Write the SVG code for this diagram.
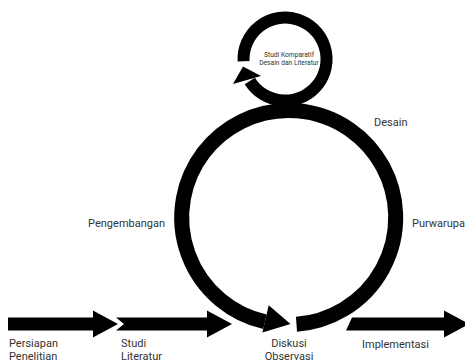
<svg xmlns="http://www.w3.org/2000/svg" width="465" height="363" viewBox="0 0 465 363">
<style>
.ring{fill:none;stroke:#000;stroke-linecap:butt}
.shape{fill:#000}
.lbl{font-family:Roboto,"Liberation Sans",sans-serif;font-size:11px;fill:#333}
.small{font-family:Roboto,"Liberation Sans",sans-serif;font-size:6.7px;fill:#333}
</style>
<rect width="465" height="363" fill="#fff"/>
<g id="connectors">
  <g id="cycle-big">
    <path class="ring" stroke-width="15" d="M296.5,324.2 A107,107 0 1 0 264.9,321.8"/>
    <polygon class="shape" points="268.7,305.2 290.5,324 262.4,332.5"/>
  </g>
  <g id="cycle-small">
    <path class="ring" stroke-width="12" d="M243.6,61.2 A41.5,41.5 0 1 1 249.8,81"/>
    <polygon class="shape" points="233,84 243,66.5 261,76"/>
  </g>
  <polygon id="arrow1" class="shape" points="8,317.5 93,317.5 93,310.5 118,324 93,337.5 93,330.5 8,330.5"/>
  <polygon id="arrow2" class="shape" points="116,317.5 207,317.5 207,310.5 232,324 207,337.5 207,330.5 116,330.5 124,324"/>
  <polygon id="arrow3" class="shape" points="352,317.5 444,317.5 444,310.5 469,324 444,337.5 444,330.5 346,330.5"/>
</g>
<g id="node-persiapan"><text class="lbl" x="9" y="347">Persiapan</text><text class="lbl" x="9" y="359.5">Penelitian</text></g>
<g id="node-studi"><text class="lbl" x="121" y="347">Studi</text><text class="lbl" x="121" y="359.5">Literatur</text></g>
<g id="node-diskusi"><text class="lbl" x="289" y="347" text-anchor="middle">Diskusi</text><text class="lbl" x="289" y="359.5" text-anchor="middle">Observasi</text></g>
<g id="node-implementasi"><text class="lbl" x="362" y="348">Implementasi</text></g>
<g id="node-pengembangan"><text class="lbl" x="165" y="227" text-anchor="end">Pengembangan</text></g>
<g id="node-purwarupa"><text class="lbl" x="412" y="227">Purwarupa</text></g>
<g id="node-desain"><text class="lbl" x="374" y="126">Desain</text></g>
<g id="node-studi-komparatif"><text class="small" x="289" y="56.5" text-anchor="middle">Studi Komparatif</text><text class="small" x="289" y="65" text-anchor="middle">Desain dan Literatur</text></g>
</svg>
